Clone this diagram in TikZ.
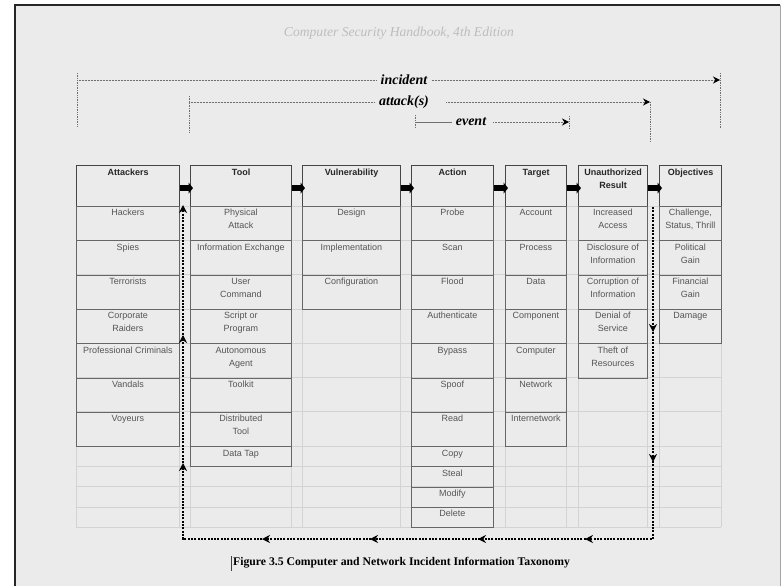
\documentclass[tikz,border=0pt]{standalone}
\usepackage{fontspec}
\setmainfont{Liberation Serif}
\setsansfont{Liberation Sans}
\usetikzlibrary{arrows.meta,decorations.markings}
\definecolor{bgc}{HTML}{EBEBEB}
\definecolor{gridc}{HTML}{D3D3D3}
\definecolor{boxc}{HTML}{666666}
\definecolor{headc}{HTML}{454545}
\definecolor{itemtxt}{HTML}{555555}
\definecolor{spanc}{HTML}{707070}
\definecolor{titlec}{HTML}{BDBDBD}
\tikzset{
 headbox/.style={draw=headc, line width=1.2pt, inner sep=0pt, anchor=north west,
   font=\sffamily\bfseries\fontsize{9}{13}\selectfont, text=black!85},
 itembox/.style={draw=boxc, line width=0.9pt, inner sep=0pt, anchor=north west,
   font=\sffamily\fontsize{9}{13}\selectfont, text=itemtxt},
 blkarrow/.style={line width=6.5pt, -{Triangle[length=4.5pt,width=11pt]}, shorten >=-3pt},
 spanline/.style={draw=spanc, line width=1pt, dash pattern=on 1pt off 0.5pt},
 spantick/.style={draw=spanc, line width=0.7pt, dash pattern=on 1pt off 0.7pt},
 spantip/.style={-{Stealth[length=7pt,width=7pt,black]}},
 spanlbl/.style={font=\fontsize{14}{16}\selectfont\bfseries\itshape, inner sep=4pt},
 fbloop/.style={line width=2pt, dash pattern=on 2pt off 1.3pt, draw=black},
 gridline/.style={draw=gridc, line width=0.8pt},
}
\newcommand\mkcol[5]{%
  \node[headbox] (h#1) at (#2,165) {\parbox[c][41pt][t]{#3pt}{\centering\rule{0pt}{9.5pt}#4}};
  \foreach \itm [count=\i] in {#5} {%
    \pgfmathsetmacro\yt{(\i<8) ? 206+(\i-1)*34.3 : 446.1+(\i-8)*20.3}%
    \pgfmathsetmacro\hh{(\i<8) ? 34.3 : 20.3}%
    \node[itembox] (#1\i) at (#2,\yt) {\parbox[c][\hh pt][t]{#3pt}{\centering\rule{0pt}{9.5pt}\itm}};
  }%
}
\begin{document}
\begin{tikzpicture}[x=1pt,y=-1pt]
\useasboundingbox (0,0) rectangle (781,586);
\fill[white] (0,0) rectangle (781,586);
\fill[bgc] (15,5) rectangle (780,586);
\draw[black!85, line width=1.3pt] (15,586) -- (15,5) -- (780,5);
\draw[black!35, line width=0.8pt] (780,5) -- (780,586);

% title
\node[font=\fontsize{13.6}{15}\selectfont\itshape, text=titlec] (title) at (399,33) {Computer Security Handbook, 4th Edition};

% spans
\draw[spantick] (77,73) -- (77,127);
\draw[spantick] (720,73) -- (720,128);
\draw[spantick] (189,96) -- (189,132);
\draw[spantick] (650,102) -- (650,142);
\draw[spantick] (415,115) -- (415,128);
\draw[spantick] (569,116) -- (569,128);

\node[spanlbl] (inc) at (404,80) {incident};
\coordinate (incL) at (77,80);
\coordinate (incR) at (720,80);
\draw[spanline] (incL) -- (inc.west);
\draw[spanline, spantip] (inc.east) -- (incR);

\node[spanlbl] (atk) at (404,102) {attack(s)};
\coordinate (atkL) at (189,102);
\coordinate (atkR) at (650,102);
\draw[spanline] (atkL) -- (atk.west);
\draw[spanline, spantip] ([xshift=13pt]atk.east) -- (atkR);

\node[spanlbl] (evt) at (471,122) {event};
\coordinate (evtL) at (415,122);
\coordinate (evtR) at (569,122);
\draw[draw=spanc, line width=0.8pt] (evtL) -- (evt.west);
\draw[spanline, spantip] ([xshift=3pt]evt.east) -- (evtR);

% grid
\foreach \y in {206,240.3,274.6,308.9,343.2,377.5,411.8,446.1,466.4,486.7,507,527.3}
  \draw[gridline] (76,\y) -- (721,\y);
\foreach \x in {76,179,190,291,302,400,411,493,505,566,578,647,659,721}
  \draw[gridline] (\x,165) -- (\x,527.3);

% columns
\mkcol{att}{76}{103}{Attackers}{Hackers,Spies,Terrorists,Corporate\\Raiders,Professional Criminals,Vandals,Voyeurs}
\mkcol{tool}{190}{101}{Tool}{Physical\\Attack,Information Exchange,User\\Command,Script or\\Program,Autonomous\\Agent,Toolkit,Distributed\\Tool,Data Tap}
\mkcol{vul}{302}{98}{Vulnerability}{Design,Implementation,Configuration}
\mkcol{act}{411}{82}{Action}{Probe,Scan,Flood,Authenticate,Bypass,Spoof,Read,Copy,Steal,Modify,Delete}
\mkcol{tgt}{505}{61}{Target}{Account,Process,Data,Component,Computer,Network,Internetwork}
\mkcol{ur}{578}{69}{Unauthorized\\Result}{Increased\\Access,Disclosure of\\Information,Corruption of\\Information,Denial of\\Service,Theft of\\Resources}
\mkcol{obj}{659}{62}{Objectives}{{Challenge,\\Status, Thrill},Political\\Gain,Financial\\Gain,Damage}

% header arrows
\foreach \a/\b in {att/tool,tool/vul,vul/act,act/tgt,tgt/ur,ur/obj}
  \draw[blkarrow] ([yshift=-2pt]h\a.east) -- ([yshift=-2pt]h\b.west);

% feedback loop
\coordinate (lp0) at (653,207);
\coordinate (lp1) at (653,539);
\coordinate (lp2) at (183,539);
\coordinate (lp3) at (183,205);
\draw[fbloop, -{Stealth[length=8pt,width=8pt]}, postaction={decorate},
  decoration={markings,
    mark=at position 125pt with {\arrow{Stealth[length=8pt,width=8pt]}},
    mark=at position 255pt with {\arrow{Stealth[length=8pt,width=8pt]}},
    mark=at position 400pt with {\arrow{Stealth[length=8pt,width=8pt]}},
    mark=at position 507pt with {\arrow{Stealth[length=8pt,width=8pt]}},
    mark=at position 615pt with {\arrow{Stealth[length=8pt,width=8pt]}},
    mark=at position 723pt with {\arrow{Stealth[length=8pt,width=8pt]}},
    mark=at position 878pt with {\arrow{Stealth[length=8pt,width=8pt]}},
    mark=at position 1006pt with {\arrow{Stealth[length=8pt,width=8pt]}}}]
  (lp0) -- (lp1) -- (lp2) -- (lp3);

% caption
\draw[black!75, line width=0.9pt] (231,556) -- (231,571);
\node[anchor=west, inner sep=0pt, font=\fontsize{11.7}{13}\selectfont\bfseries] (cap) at (233,563) {Figure 3.5 Computer and Network Incident Information Taxonomy};
\end{tikzpicture}
\end{document}
